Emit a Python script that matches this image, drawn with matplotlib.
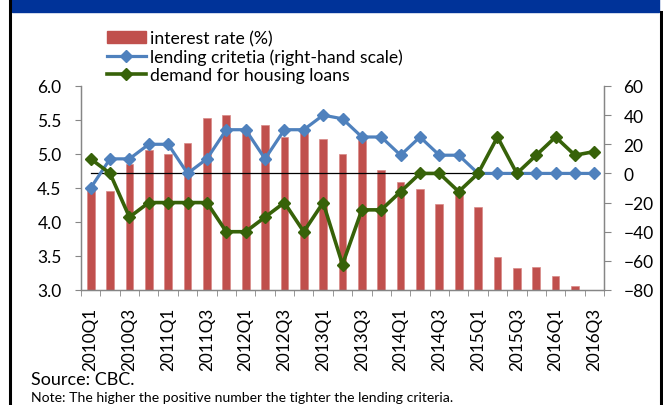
import numpy as np
import matplotlib
matplotlib.use("Agg")
import matplotlib.pyplot as plt
from matplotlib.lines import Line2D
from matplotlib.patches import Patch, Rectangle

plt.rcParams['font.family'] = ['Lato', 'DejaVu Sans']

# ===== dados =====
quarters = ["2010Q1", "2010Q2", "2010Q3", "2010Q4", "2011Q1", "2011Q2", "2011Q3",
            "2011Q4", "2012Q1", "2012Q2", "2012Q3", "2012Q4", "2013Q1", "2013Q2",
            "2013Q3", "2013Q4", "2014Q1", "2014Q2", "2014Q3", "2014Q4", "2015Q1",
            "2015Q2", "2015Q3", "2015Q4", "2016Q1", "2016Q2", "2016Q3"]
interest_rate = [4.50, 4.45, 4.86, 5.06, 5.00, 5.16, 5.53, 5.57, 5.38, 5.43, 5.25,
                 5.33, 5.22, 5.00, 5.20, 4.76, 4.59, 4.49, 4.27, 4.42, 4.22, 3.49,
                 3.32, 3.34, 3.20, 3.06, np.nan]
lending = [-10, 10, 10, 20, 20, 0, 10, 30, 30, 10, 30, 30, 40, 37.5, 25, 25, 12.5,
           25, 12.5, 12.5, 0, 0, 0, 0, 0, 0, 0]
demand = [10, 0, -30, -20, -20, -20, -20, -40, -40, -30, -20, -40, -20, -62.5, -25,
          -25, -12.5, 0, 0, -12.5, 0, 25, 0, 12.5, 25, 12.5, 15]
zero_line = [0] * 26

RED = "#C0504D"
BLUE = "#4F81BD"
GREEN = "#376209"
GRAY = "#868686"

W, H = 663, 406
fig = plt.figure(figsize=(W / 100, H / 100), dpi=100)

# faixa azul e bordas
fig.patches.append(Rectangle((12 / W, 1 - 13 / H), 647 / W, 13 / H,
                             transform=fig.transFigure, color="#003399"))
fig.lines.append(Line2D([10 / W, 10 / W], [0, 1], transform=fig.transFigure,
                        color="black", lw=2.2))
fig.lines.append(Line2D([661 / W, 661 / W], [0, 1 - 13 / H], transform=fig.transFigure,
                        color="black", lw=2.2))

ax = fig.add_axes([81 / W, 1 - 291 / H, 523 / W, 204 / H])
ax2 = ax.twinx()

x = np.arange(len(quarters))
ax.bar(x, interest_rate, width=0.4, color=RED, edgecolor="#D98A88", linewidth=0.5)
ax.set_ylim(3.0, 6.0)
ax.set_yticks(np.arange(3.0, 6.01, 0.5))
ax.set_yticklabels([f"{v:.1f}" for v in np.arange(3.0, 6.01, 0.5)])
ax.set_xlim(-0.5, len(quarters) - 0.5)

ax2.plot(np.arange(len(zero_line)), zero_line, color="black", lw=0.9, zorder=1)
ax2.plot(x, lending, color=BLUE, lw=2.3, marker="D", ms=6.2, zorder=3)
ax2.plot(x, demand, color=GREEN, lw=2.6, marker="D", ms=6.6, zorder=4)
ax2.set_ylim(-80, 60)
ax2.set_yticks(np.arange(-80, 61, 20))

# eixo x
ax.set_xticks(x[::2])
ax.set_xticklabels(quarters[::2], rotation=90)
ax.set_xticks(np.arange(-0.5, len(quarters), 1), minor=True)
ax.tick_params(axis="x", which="major", length=0, pad=12, labelsize=12.3)
ax.tick_params(axis="x", which="minor", length=4, color=GRAY, direction="out")
ax.tick_params(axis="y", length=4, color=GRAY, pad=10, labelsize=12.5)
ax2.tick_params(axis="y", length=5, color=GRAY, pad=9, labelsize=12.5)

for a in (ax, ax2):
    for s in a.spines.values():
        s.set_color(GRAY)
        s.set_linewidth(0.9)
    a.spines["top"].set_visible(False)
ax.patch.set_visible(False)

handles = [Patch(color=RED),
           Line2D([], [], color=BLUE, lw=2.3, marker="D", ms=6.2),
           Line2D([], [], color=GREEN, lw=2.6, marker="D", ms=6.6)]
labels = ["interest rate (%)", "lending critetia (right-hand scale)",
          "demand for housing loans"]
fig.legend(handles, labels, loc="upper left", bbox_to_anchor=(107 / W, 1 - 31 / H),
           frameon=False, fontsize=12.7, handlelength=2.2, handletextpad=0.25,
           labelspacing=0.12, borderpad=0, borderaxespad=0)

fig.text(31 / W, 1 - 380 / H, "Source: CBC.", fontsize=13, va="center")
fig.text(31 / W, 1 - 398 / H,
         "Note: The higher the positive number the tighter the lending criteria.",
         fontsize=10.1, va="center")

fig.savefig("out.png", dpi=100)
